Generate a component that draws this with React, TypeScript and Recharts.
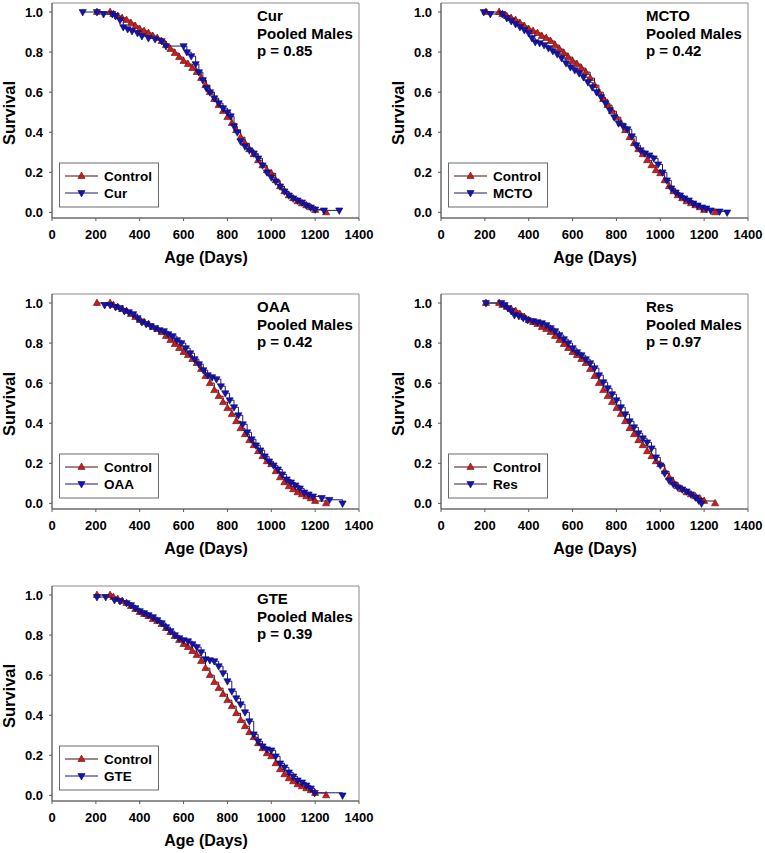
import React from 'react';
import { ComposedChart, Line, XAxis, YAxis, ReferenceArea } from 'recharts';

type Pt = [number, number];

// Shared pooled-male control group (age in days, survival fraction)
const controlSurvival: Pt[] = [
  [205, 1.0], [265, 1.0], [280, 0.99], [300, 0.98], [320, 0.97], [340, 0.96], [360, 0.945], [380, 0.93],
  [400, 0.915], [420, 0.905], [440, 0.895], [460, 0.88], [480, 0.87], [500, 0.855], [520, 0.835], [540, 0.815],
  [560, 0.795], [580, 0.775], [600, 0.755], [620, 0.74], [640, 0.72], [660, 0.7], [680, 0.67], [700, 0.635],
  [720, 0.6], [740, 0.565], [760, 0.535], [780, 0.505], [800, 0.475], [820, 0.445], [840, 0.41], [860, 0.375],
  [880, 0.345], [900, 0.315], [920, 0.29], [940, 0.26], [960, 0.235], [980, 0.21], [1000, 0.195], [1020, 0.16],
  [1040, 0.13], [1060, 0.105], [1080, 0.085], [1100, 0.07], [1120, 0.055], [1140, 0.045], [1160, 0.035],
  [1180, 0.025], [1200, 0.012], [1250, 0.0],
];

const curSurvival: Pt[] = [
  [140, 1.0], [205, 1.0], [235, 0.99], [275, 0.99], [290, 0.98], [310, 0.96], [325, 0.925], [345, 0.915],
  [365, 0.905], [390, 0.895], [410, 0.88], [440, 0.87], [470, 0.865], [500, 0.855], [520, 0.83], [600, 0.83],
  [615, 0.8], [635, 0.78], [655, 0.74], [670, 0.7], [688, 0.66], [704, 0.62], [720, 0.6], [740, 0.57],
  [760, 0.545], [780, 0.52], [800, 0.5], [815, 0.48], [830, 0.43], [845, 0.4], [860, 0.355], [880, 0.33],
  [900, 0.31], [920, 0.295], [940, 0.27], [960, 0.235], [980, 0.2], [1000, 0.175], [1020, 0.155], [1040, 0.13],
  [1060, 0.105], [1080, 0.085], [1100, 0.07], [1120, 0.06], [1140, 0.05], [1160, 0.035], [1180, 0.025],
  [1200, 0.015], [1240, 0.01], [1310, 0.01],
];

const mctoSurvival: Pt[] = [
  [195, 1.0], [225, 0.99], [280, 0.99], [300, 0.97], [320, 0.955], [340, 0.94], [360, 0.925], [380, 0.91],
  [400, 0.895], [415, 0.87], [430, 0.85], [450, 0.845], [470, 0.835], [490, 0.82], [510, 0.805], [530, 0.79],
  [550, 0.77], [570, 0.745], [590, 0.725], [610, 0.71], [630, 0.695], [650, 0.675], [670, 0.65], [690, 0.625],
  [710, 0.6], [730, 0.575], [750, 0.545], [770, 0.51], [790, 0.475], [810, 0.445], [830, 0.43], [850, 0.415],
  [870, 0.38], [890, 0.335], [910, 0.31], [930, 0.295], [950, 0.285], [970, 0.27], [990, 0.24], [1010, 0.2],
  [1030, 0.16], [1050, 0.12], [1070, 0.1], [1090, 0.085], [1110, 0.07], [1130, 0.06], [1150, 0.045],
  [1170, 0.035], [1190, 0.025], [1210, 0.02], [1230, 0.01], [1270, 0.005], [1305, 0.0],
];

const oaaSurvival: Pt[] = [
  [240, 0.99], [265, 0.99], [290, 0.98], [310, 0.975], [330, 0.96], [350, 0.955], [370, 0.945], [390, 0.925],
  [410, 0.905], [430, 0.895], [450, 0.885], [470, 0.875], [490, 0.865], [510, 0.86], [530, 0.845], [550, 0.835],
  [570, 0.815], [590, 0.8], [610, 0.775], [630, 0.75], [650, 0.72], [670, 0.695], [690, 0.665], [710, 0.64],
  [730, 0.63], [750, 0.62], [770, 0.585], [790, 0.55], [810, 0.515], [830, 0.48], [850, 0.44], [870, 0.395],
  [890, 0.355], [910, 0.32], [930, 0.29], [950, 0.265], [970, 0.235], [990, 0.21], [1010, 0.19], [1030, 0.17],
  [1050, 0.145], [1070, 0.12], [1090, 0.105], [1110, 0.09], [1130, 0.075], [1150, 0.055], [1170, 0.045],
  [1190, 0.035], [1230, 0.027], [1265, 0.018], [1325, 0.0],
];

const resSurvival: Pt[] = [
  [205, 1.0], [275, 1.0], [290, 0.99], [305, 0.975], [320, 0.96], [335, 0.94], [355, 0.935], [375, 0.925],
  [395, 0.915], [420, 0.91], [440, 0.905], [460, 0.9], [480, 0.89], [500, 0.875], [520, 0.86], [540, 0.84],
  [560, 0.82], [580, 0.8], [600, 0.775], [620, 0.755], [640, 0.74], [660, 0.72], [680, 0.7], [700, 0.675],
  [720, 0.64], [740, 0.605], [760, 0.575], [780, 0.545], [800, 0.515], [820, 0.48], [840, 0.445], [860, 0.41],
  [880, 0.38], [900, 0.35], [920, 0.325], [940, 0.305], [960, 0.275], [980, 0.23], [1000, 0.19], [1020, 0.15],
  [1040, 0.115], [1060, 0.095], [1080, 0.08], [1100, 0.07], [1120, 0.06], [1140, 0.045], [1160, 0.03],
  [1175, 0.015], [1188, 0.0],
];

const gteSurvival: Pt[] = [
  [205, 0.99], [245, 0.99], [285, 0.975], [310, 0.97], [340, 0.96], [360, 0.95], [380, 0.935], [400, 0.92],
  [420, 0.91], [440, 0.9], [460, 0.89], [480, 0.875], [500, 0.86], [520, 0.84], [540, 0.82], [560, 0.8],
  [580, 0.785], [600, 0.775], [620, 0.77], [640, 0.755], [660, 0.74], [680, 0.715], [700, 0.68], [720, 0.675],
  [740, 0.67], [760, 0.645], [780, 0.61], [800, 0.57], [820, 0.52], [840, 0.485], [860, 0.455], [880, 0.415],
  [900, 0.37], [920, 0.305], [940, 0.27], [960, 0.245], [980, 0.23], [1000, 0.225], [1020, 0.195], [1040, 0.16],
  [1060, 0.14], [1080, 0.115], [1100, 0.095], [1120, 0.075], [1140, 0.065], [1160, 0.05], [1180, 0.035],
  [1198, 0.013], [1325, 0.0],
];

const treatmentNames = ['Cur', 'MCTO', 'OAA', 'Res', 'GTE'];
const treatmentSeries = [curSurvival, mctoSurvival, oaaSurvival, resSurvival, gteSurvival];
const pValues = ['0.85', '0.42', '0.42', '0.97', '0.39'];
const cohortLabel = 'Pooled Males';
const controlLabel = 'Control';
const xTitle = 'Age (Days)';
const yTitle = 'Survival';
const xTicks = [0, 200, 400, 600, 800, 1000, 1200, 1400];
const yTicks = [0, 0.2, 0.4, 0.6, 0.8, 1.0];

// layout
const CHART_W = 385;
const CHART_H = 285;
const panelOrigins = [
  { left: 0, top: 0 },
  { left: 389, top: 0 },
  { left: 0, top: 291 },
  { left: 389, top: 291 },
  { left: 0, top: 583 },
];
const Y_MIN = -0.028;
const Y_MAX = 1.045;
const FONT = 'Arial, "Liberation Sans", Helvetica, sans-serif';
const RED = '#c41e1e';
const RED_EDGE = '#6a0a0a';
const BLUE = '#1414b4';
const BLUE_EDGE = '#08085a';
const RED_LINE = '#4a0c0c';
const BLUE_LINE = '#1a1a70';
const AXIS = '#5a5a5a';

const upPath = (cx: number, cy: number) =>
  `M${cx},${cy - 4}L${cx + 3.6},${cy + 2.4}L${cx - 3.6},${cy + 2.4}Z`;
const downPath = (cx: number, cy: number) =>
  `M${cx},${cy + 4}L${cx + 3.6},${cy - 2.4}L${cx - 3.6},${cy - 2.4}Z`;

const toRows = (pts: Pt[]) => pts.map(([age, s]) => ({ age, s }));

function Panel({ idx }: { idx: number }) {
  const name = treatmentNames[idx];
  const origin = panelOrigins[idx];
  const ctrl = toRows(controlSurvival);
  const trt = toRows(treatmentSeries[idx]);
  return (
    <div style={{ position: 'absolute', left: origin.left, top: origin.top, width: CHART_W, height: CHART_H }}>
      <ComposedChart
        width={CHART_W}
        height={CHART_H}
        margin={{ top: 3, right: 26, bottom: 27, left: 0 }}
      >
        <XAxis
          type="number"
          dataKey="age"
          domain={[0, 1400]}
          ticks={xTicks}
          allowDataOverflow
          height={40}
          tickSize={3}
          tickMargin={9}
          stroke={AXIS}
          tick={{ fill: '#000', fontSize: 13, fontWeight: 700, fontFamily: FONT }}
        />
        <YAxis
          type="number"
          dataKey="s"
          domain={[Y_MIN, Y_MAX]}
          ticks={yTicks}
          allowDataOverflow
          width={52}
          tickSize={3}
          tickMargin={6}
          stroke={AXIS}
          tickFormatter={(v: number) => v.toFixed(1)}
          tick={{ fill: '#000', fontSize: 13, fontWeight: 700, fontFamily: FONT }}
        />
        <ReferenceArea x1={0} x2={1400} y1={Y_MIN} y2={Y_MAX} fill="none" stroke="#8a8a8a" strokeWidth={1} />
        <Line
          data={ctrl}
          dataKey="s"
          type="stepAfter"
          stroke={RED_LINE}
          strokeWidth={1}
          isAnimationActive={false}
          dot={(p: any) => (
            <path key={`c${p.index}`} d={upPath(p.cx, p.cy)} fill={RED} stroke={RED_EDGE} strokeWidth={0.6} />
          )}
          activeDot={false}
        />
        <Line
          data={trt}
          dataKey="s"
          type="stepAfter"
          stroke={BLUE_LINE}
          strokeWidth={1}
          isAnimationActive={false}
          dot={(p: any) => (
            <path key={`t${p.index}`} d={downPath(p.cx, p.cy)} fill={BLUE} stroke={BLUE_EDGE} strokeWidth={0.6} />
          )}
          activeDot={false}
        />
      </ComposedChart>
      <svg
        width={CHART_W}
        height={CHART_H}
        style={{ position: 'absolute', left: 0, top: 0, pointerEvents: 'none' }}
        fontFamily={FONT}
        fontWeight={700}
      >
        <text x={257} y={21} fontSize={15}>{name}</text>
        <text x={257} y={38.5} fontSize={15}>{cohortLabel}</text>
        <text x={257} y={56} fontSize={15}>{`p = ${pValues[idx]}`}</text>
        <text transform="translate(15,113) rotate(-90)" textAnchor="middle" fontSize={16.5}>{yTitle}</text>
        <text x={206} y={263} textAnchor="middle" fontSize={16}>{xTitle}</text>
        <rect x={59.5} y={163} width={99} height={44} fill="#fff" stroke="#6a6a6a" strokeWidth={1} />
        <line x1={65} x2={98} y1={176} y2={176} stroke={RED_LINE} strokeWidth={1} />
        <path d={upPath(81.5, 176)} fill={RED} stroke={RED_EDGE} strokeWidth={0.6} />
        <text x={104} y={181} fontSize={13.5}>{controlLabel}</text>
        <line x1={65} x2={98} y1={193} y2={193} stroke={BLUE_LINE} strokeWidth={1} />
        <path d={downPath(81.5, 193)} fill={BLUE} stroke={BLUE_EDGE} strokeWidth={0.6} />
        <text x={104} y={198} fontSize={13.5}>{name}</text>
      </svg>
    </div>
  );
}

export default function App() {
  return (
    <div
      style={{
        position: 'absolute',
        left: 0,
        top: 0,
        width: 765,
        height: 853,
        overflow: 'hidden',
        background: '#fff',
      }}
    >
      {treatmentNames.map((_, i) => (
        <Panel key={i} idx={i} />
      ))}
    </div>
  );
}
